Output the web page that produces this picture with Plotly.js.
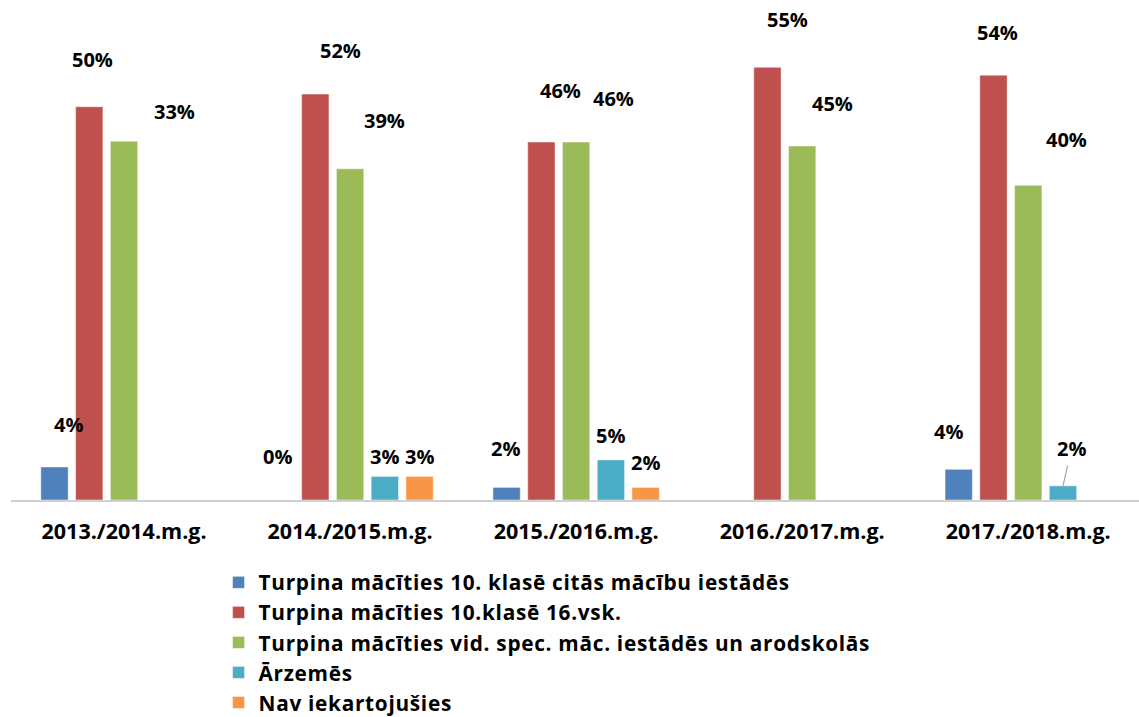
<!DOCTYPE html>
<html>
<head>
<meta charset="utf-8">
<script src="https://cdn.plot.ly/plotly-3.0.1.min.js"></script>
<style>
  html, body { margin: 0; padding: 0; background: #ffffff; }
  #chart { width: 1139px; height: 717px; }
  #chart .legendtext { letter-spacing: 0.7px; }
  #chart .legend .scrollbox { clip-path: none !important; }
</style>
</head>
<body>
<div id="chart"></div>
<script>
// ---------------- DATA ----------------
const categories = ["2013./2014.m.g.", "2014./2015.m.g.", "2015./2016.m.g.", "2016./2017.m.g.", "2017./2018.m.g."];

const seriesNames = [
  "Turpina mācīties 10. klasē citās mācību iestādēs",
  "Turpina mācīties 10.klasē 16.vsk.",
  "Turpina mācīties vid. spec. māc. iestādēs un arodskolās",
  "Ārzemēs",
  "Nav iekartojušies"
];

// bar heights (percent)
const citasIestades = [4.2, 0, 1.6, null, 3.9];
const vsk16 = [50.0, 51.6, 45.5, 55.0, 54.0];
const vidSpec = [45.6, 42.1, 45.5, 45.0, 40.0];
const arzemes = [null, 3.0, 5.1, null, 1.8];
const navIekartojusies = [null, 3.0, 1.6, null, null];

// data labels as printed on the chart
const citasIestadesLabels = ["4%", "0%", "2%", null, "4%"];
const vsk16Labels = ["50%", "52%", "46%", "55%", "54%"];
const vidSpecLabels = ["33%", "39%", "46%", "45%", "40%"];
const arzemesLabels = [null, "3%", "5%", null, "2%"];
const navIekartojusiesLabels = [null, "3%", "2%", null, null];

// ---------------- STYLE ----------------
const colors = ["#4F81BD", "#C0504D", "#9BBB59", "#4BACC6", "#F79646"];
const FONT = "'Open Sans', Lato, sans-serif";
const BARGAP = 0.231;
const BARGROUPGAP = 0.214;

// label placement nudges in px: [dx, rise above bar top], per series per category
const labelNudge = [
  [[14, 42], [-3.5, 43.5], [-1.5, 38.7], null, [-10.5, 37.5]],
  [[3, 46.7], [25, 43.3], [19, 51.5], [20.5, 47.8], [4.5, 42.5]],
  [[50.5, 30], [34.5, 48], [37, 44], [30.5, 43], [38, 45.7]],
  [null, [0, 20], [0, 24.3], null, [8.5, 37.5]],
  [null, [0, 20], [0, 25.2], null, null]
];
// labels drawn with a leader line: [series, category]
const leaderLines = [[3, 4]];

const values = [citasIestades, vsk16, vidSpec, arzemes, navIekartojusies];
const labels = [citasIestadesLabels, vsk16Labels, vidSpecLabels, arzemesLabels, navIekartojusiesLabels];

const traces = values.map((vals, j) => ({
  type: "bar",
  name: seriesNames[j],
  x: categories,
  y: vals,
  marker: { color: colors[j], line: { color: "rgba(255,255,255,0.45)", width: 1 } },
  hoverinfo: "skip"
}));

const labelFont = { family: FONT, size: 20, color: "#000000", weight: 700 };
const nSeries = values.length;
const slot = (1 - BARGAP) / nSeries;
const annotations = [];
values.forEach((vals, j) => {
  vals.forEach((v, i) => {
    const txt = labels[j][i];
    if (txt == null || v == null) return;
    const nudge = labelNudge[j][i] || [0, 40];
    const xPos = i + (j - (nSeries - 1) / 2) * slot;
    const isLeader = leaderLines.some(p => p[0] === j && p[1] === i);
    if (isLeader) {
      annotations.push({
        x: xPos, y: v, xref: "x", yref: "y",
        text: txt, showarrow: true, arrowhead: 0, arrowwidth: 1.2,
        arrowcolor: "#a6a6a6", standoff: 0, startstandoff: 2,
        ax: nudge[0], ay: -nudge[1],
        font: labelFont
      });
    } else {
      annotations.push({
        x: xPos, y: v, xref: "x", yref: "y",
        text: txt, showarrow: false,
        xanchor: "center", yanchor: "middle",
        xshift: nudge[0], yshift: nudge[1],
        font: labelFont
      });
    }
  });
});

const layout = {
  width: 1139,
  height: 717,
  margin: { l: 11, r: 0, t: 28, b: 217, autoexpand: false },
  paper_bgcolor: "#ffffff",
  plot_bgcolor: "#ffffff",
  barmode: "group",
  bargap: BARGAP,
  bargroupgap: BARGROUPGAP,
  font: { family: FONT, size: 21, color: "#000000", weight: 700 },
  xaxis: {
    type: "category",
    range: [-0.5, 4.49],
    showline: true,
    linecolor: "#d0d0d0",
    linewidth: 1.5,
    ticks: "",
    ticklabelstandoff: 12,
    showgrid: false,
    zeroline: false,
    tickfont: { family: FONT, size: 21.5, color: "#000000", weight: 700 },
    fixedrange: true
  },
  yaxis: {
    range: [0, 60],
    visible: false,
    showgrid: false,
    zeroline: false,
    fixedrange: true
  },
  showlegend: true,
  legend: {
    orientation: "v",
    x: 0.184,
    xanchor: "left",
    y: -0.132,
    yanchor: "top",
    bgcolor: "rgba(0,0,0,0)",
    font: { family: FONT, size: 20.8, color: "#000000", weight: 700 },
    traceorder: "normal",
    itemclick: false,
    itemdoubleclick: false
  },
  annotations: annotations
};

Plotly.newPlot("chart", traces, layout, { displayModeBar: false, staticPlot: true });
</script>
</body>
</html>
